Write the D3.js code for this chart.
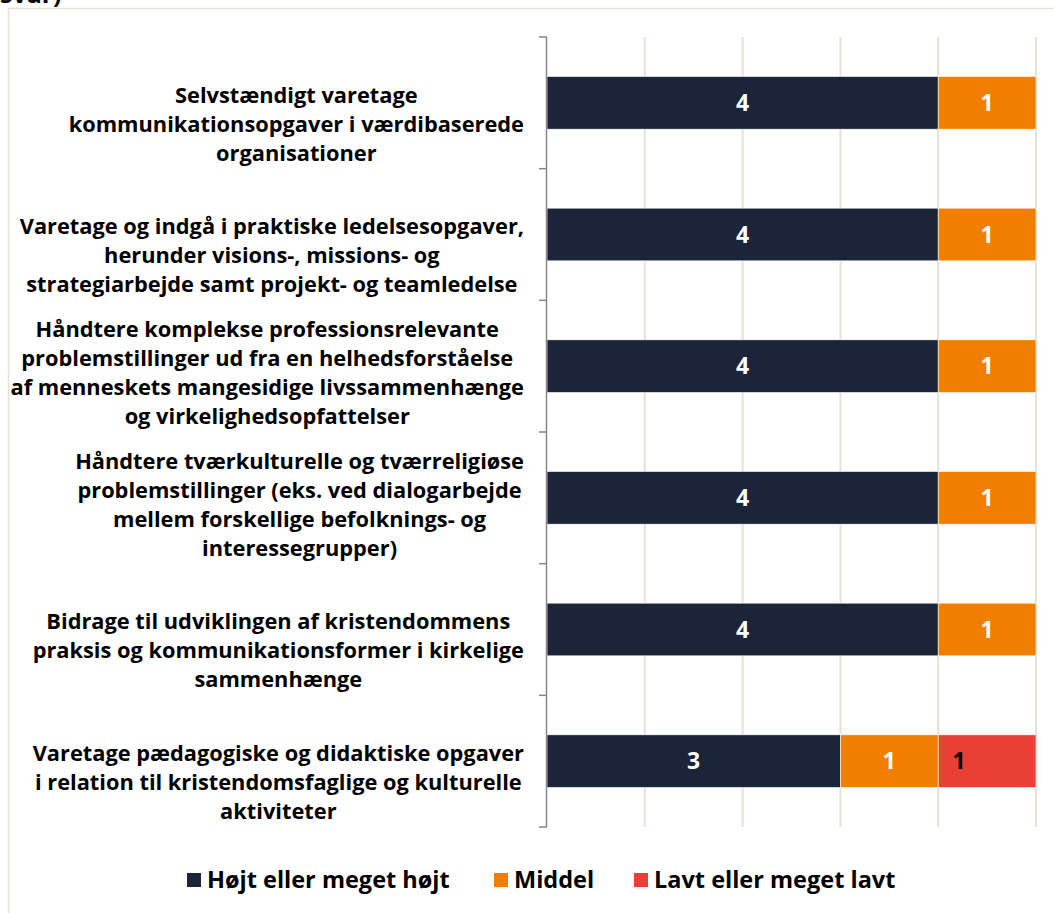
<!DOCTYPE html>
<html>
<head>
<meta charset="utf-8">
<script src="https://cdn.jsdelivr.net/npm/d3@7"></script>
<style>
  body { margin: 0; background: #fff; }
  svg { display: block; font-family: "Open Sans", Arial, sans-serif; font-weight: 700; }
</style>
</head>
<body>
<div id="chart"></div>
<script>
// categories (each line of the wrapped label)
var categories = [
  ["Selvstændigt varetage", "kommunikationsopgaver i værdibaserede", "organisationer"],
  ["Varetage og indgå i praktiske ledelsesopgaver,", "herunder visions-, missions- og", "strategiarbejde samt projekt- og teamledelse"],
  ["Håndtere komplekse professionsrelevante", "problemstillinger ud fra en helhedsforståelse", "af menneskets mangesidige livssammenhænge", "og virkelighedsopfattelser"],
  ["Håndtere tværkulturelle og tværreligiøse", "problemstillinger (eks. ved dialogarbejde", "mellem forskellige befolknings- og", "interessegrupper)"],
  ["Bidrage til udviklingen af kristendommens", "praksis og kommunikationsformer i kirkelige", "sammenhænge"],
  ["Varetage pædagogiske og didaktiske opgaver", "i relation til kristendomsfaglige og kulturelle", "aktiviteter"]
];
var series = ["Højt eller meget højt", "Middel", "Lavt eller meget lavt"];
var hoejt = [4, 4, 4, 4, 4, 3];
var middel = [1, 1, 1, 1, 1, 1];
var lavt = [0, 0, 0, 0, 0, 1];
var xTicks = [0, 1, 2, 3, 4, 5];

var colors = ["#1b2439", "#f07f00", "#e94035"];
var labelColors = ["#fff", "#fff", "#000"];

var width = 1054, height = 913;
var svg = d3.select("#chart").append("svg")
  .attr("width", width).attr("height", height);

// outer frame
svg.append("rect")
  .attr("x", 8.5).attr("y", 8.5)
  .attr("width", 1100).attr("height", 1000)
  .style("fill", "none").style("stroke", "#e6e1d9").style("stroke-width", 1.5);

// cut-off title remnant (the reference only shows its bottom edge)
svg.append("text")
  .attr("x", 0).attr("y", 3)
  .style("font-size", "25px").style("fill", "#000")
  .text("svar)");

var x = d3.scaleLinear().domain([0, 5]).range([547, 1036]);
var y = d3.scaleBand().domain(d3.range(categories.length))
  .range([37, 827]).paddingInner(0.6).paddingOuter(0.3);

// gridlines
svg.selectAll("line.grid")
  .data(xTicks.slice(1))
  .enter().append("line")
  .attr("class", "grid")
  .attr("x1", function(d){ return x(d); })
  .attr("x2", function(d){ return x(d); })
  .attr("y1", 37).attr("y2", 827)
  .style("stroke", "#e6e1d9").style("stroke-width", 2);

// stack
var rows = categories.map(function(c, i){
  return [hoejt[i], middel[i], lavt[i]];
});
var segs = [];
rows.forEach(function(r, i){
  var acc = 0;
  r.forEach(function(v, k){
    if (v > 0) segs.push({i: i, k: k, x0: acc, x1: acc + v, v: v});
    acc += v;
  });
});

svg.selectAll("rect.bar")
  .data(segs)
  .enter().append("rect")
  .attr("class", "bar")
  .attr("x", function(d){ return x(d.x0); })
  .attr("y", function(d){ return y(d.i); })
  .attr("width", function(d){ return x(d.x1) - x(d.x0); })
  .attr("height", y.bandwidth())
  .style("fill", function(d){ return colors[d.k]; })
  .style("stroke", "#fff").style("stroke-width", 0.6);

svg.selectAll("text.val")
  .data(segs)
  .enter().append("text")
  .attr("class", "val")
  .attr("x", function(d){
    // the "lavt" label sits to the left in the original
    if (d.k == 2) return x(d.x0) + 21;
    return (x(d.x0) + x(d.x1)) / 2;
  })
  .attr("y", function(d){ return y(d.i) + y.bandwidth() / 2; })
  .attr("dy", "0.36em")
  .style("text-anchor", "middle")
  .style("font-size", "23px")
  .style("fill", function(d){ return labelColors[d.k]; })
  .text(function(d){ return d.v; });

// y axis: line + outward ticks at band boundaries
var yAxisG = svg.append("g");
yAxisG.append("line")
  .attr("x1", 546.5).attr("x2", 546.5).attr("y1", 37).attr("y2", 827)
  .style("stroke", "#868686").style("stroke-width", 1.5);
var bounds = d3.range(categories.length + 1).map(function(i){
  return 37 + i * y.step();
});
yAxisG.selectAll("line.tick")
  .data(bounds)
  .enter().append("line")
  .attr("x1", 539).attr("x2", 547)
  .attr("y1", function(d){ return d; }).attr("y2", function(d){ return d; })
  .style("stroke", "#868686").style("stroke-width", 1.5);

// category labels: bottom-anchored block, right edge at 524, lines centered in block
var lineH = 29, rightEdge = 524;
categories.forEach(function(lines, i){
  var cy = y(i) + y.bandwidth() / 2;
  var g = svg.append("g");
  var ts = lines.map(function(l, j){
    return g.append("text")
      .attr("y", cy + 50 - (lines.length - 1 - j) * lineH)
      .attr("dy", "0.36em")
      .style("text-anchor", "middle")
      .style("font-size", "21.8px")
      .style("fill", "#000")
      .text(l);
  });
  var maxW = d3.max(ts, function(t){ return t.node().getComputedTextLength(); });
  ts.forEach(function(t){ t.attr("x", rightEdge - maxW / 2); });
});

// legend
var legendX = [187, 494, 634];
var lg = svg.selectAll("g.legend")
  .data(series)
  .enter().append("g")
  .attr("class", "legend")
  .attr("transform", function(d, i){ return "translate(" + legendX[i] + ",873)"; });
lg.append("rect")
  .attr("width", 14).attr("height", 14)
  .style("fill", function(d, i){ return colors[i]; });
lg.append("text")
  .attr("x", 20).attr("y", 7).attr("dy", "0.36em")
  .style("font-size", "23.5px").style("fill", "#000")
  .text(function(d){ return d; });
</script>
</body>
</html>
